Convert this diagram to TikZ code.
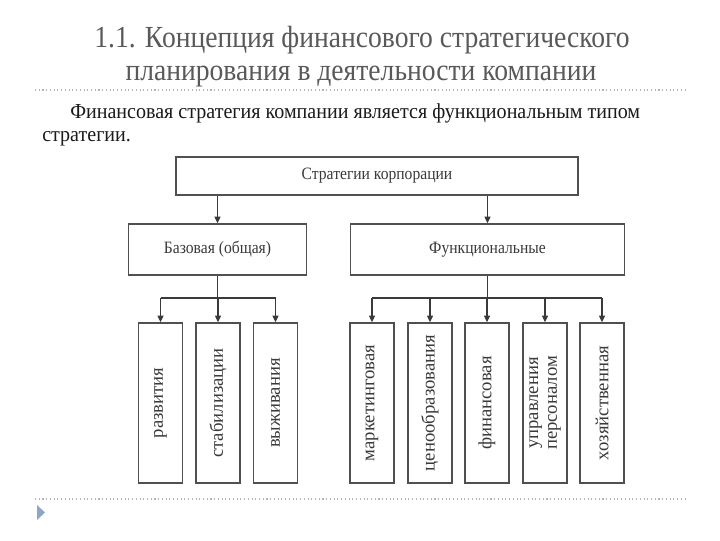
\documentclass[tikz,border=0pt]{standalone}
\usepackage{fontspec}
\setmainfont{Liberation Serif}
\newfontfamily\narrowfont[FakeStretch=0.9]{Liberation Serif}
\newfontfamily\subfont[FakeStretch=0.94]{Liberation Serif}
\newfontfamily\diagfont[FakeStretch=0.9]{Liberation Serif}
\usetikzlibrary{arrows.meta}
\definecolor{titlec}{HTML}{595959}
\definecolor{textc}{HTML}{1A1A1A}
\definecolor{diagc}{HTML}{3A3A3A}
\definecolor{boxc}{HTML}{505050}
\definecolor{dotc}{HTML}{B5B5B5}
\definecolor{markc}{HTML}{8EA6C6}
\begin{document}
\begin{tikzpicture}[x=0.75pt,y=-0.75pt,
  box/.style={draw=boxc, line width=1.1pt, fill=white, inner sep=0pt},
  vbox/.style={box, minimum width=33pt, minimum height=120pt},
  lab/.style={text=diagc, font=\diagfont\fontsize{13}{14}\selectfont, align=center, inner sep=0pt},
  vlab/.style={text=diagc, font=\fontsize{14}{14}\selectfont, align=center, inner sep=0pt, rotate=90},
  conn/.style={draw=diagc, line width=0.9pt},
  arr/.style={conn, -{Triangle[length=5pt,width=4.5pt]}},
  sep/.style={draw=dotc, line width=0.8pt, dotted}]
\useasboundingbox (0,0) rectangle (720,540);
% title
\node[anchor=base, text=titlec, font=\narrowfont\fontsize{23}{26}\selectfont, inner sep=0pt] (t1) at (362,47) {1.1. Концепция финансового стратегического};
\node[anchor=base, text=titlec, font=\narrowfont\fontsize{23}{26}\selectfont, inner sep=0pt] (t2) at (361,80) {планирования в деятельности компании};
\draw[sep] (35,90) -- (685,90);
\node[anchor=base west, text=textc, font=\subfont\fontsize{16}{18}\selectfont, inner sep=0pt] (s1) at (70,118) {Финансовая стратегия компании является функциональным типом};
\node[anchor=base west, text=textc, font=\subfont\fontsize{16}{18}\selectfont, inner sep=0pt] (s2) at (42,141) {стратегии.};
% diagram
\node[box, minimum width=301.5pt, minimum height=28.5pt] (top) at (377,176) {};
\node[lab] at (top) {Стратегии корпорации};
\node[box, minimum width=133.5pt, minimum height=38.25pt] (base) at (217.5,249.5) {};
\node[lab] at (base) {Базовая (общая)};
\node[box, minimum width=205.5pt, minimum height=38.25pt] (func) at (487.5,249.5) {};
\node[lab] at (func) {Функциональные};
\foreach \n/\x in {b1/160.5,b2/218,b3/275.5,f1/372,f2/430,f3/487,f4/545,f5/602}{
  \node[vbox] (\n) at (\x,403) {};
}
\node[vlab] at (b1) {развития};
\node[vlab] at (b2) {стабилизации};
\node[vlab] at (b3) {выживания};
\node[vlab] at (f1) {маркетинговая};
\node[vlab] at (f2) {ценообразования};
\node[vlab] at (f3) {финансовая};
\node[vlab, font=\fontsize{14}{14}\selectfont] at (f4) {управления\\персоналом};
\node[vlab] at (f5) {хозяйственная};
% connectors
\draw[arr] (base.north |- top.south) -- (base.north);
\draw[arr] (func.north |- top.south) -- (func.north);
\coordinate (jb) at (217.5,298);
\coordinate (jf) at (487.5,298);
\draw[conn] (base.south) -- (jb);
\draw[conn] (func.south) -- (jf);
\draw[conn] (b1.north |- jb) -- (b3.north |- jb);
\draw[conn] (f1.north |- jf) -- (f5.north |- jf);
\foreach \n in {b1,b2,b3}{\draw[arr] (\n.north |- jb) -- (\n.north);}
\foreach \n in {f1,f2,f3,f4,f5}{\draw[arr] (\n.north |- jf) -- (\n.north);}
% bottom
\draw[sep] (35,499) -- (685,499);
\fill[markc] (37,505) -- (45,512.5) -- (37,520) -- cycle;
\end{tikzpicture}
\end{document}
